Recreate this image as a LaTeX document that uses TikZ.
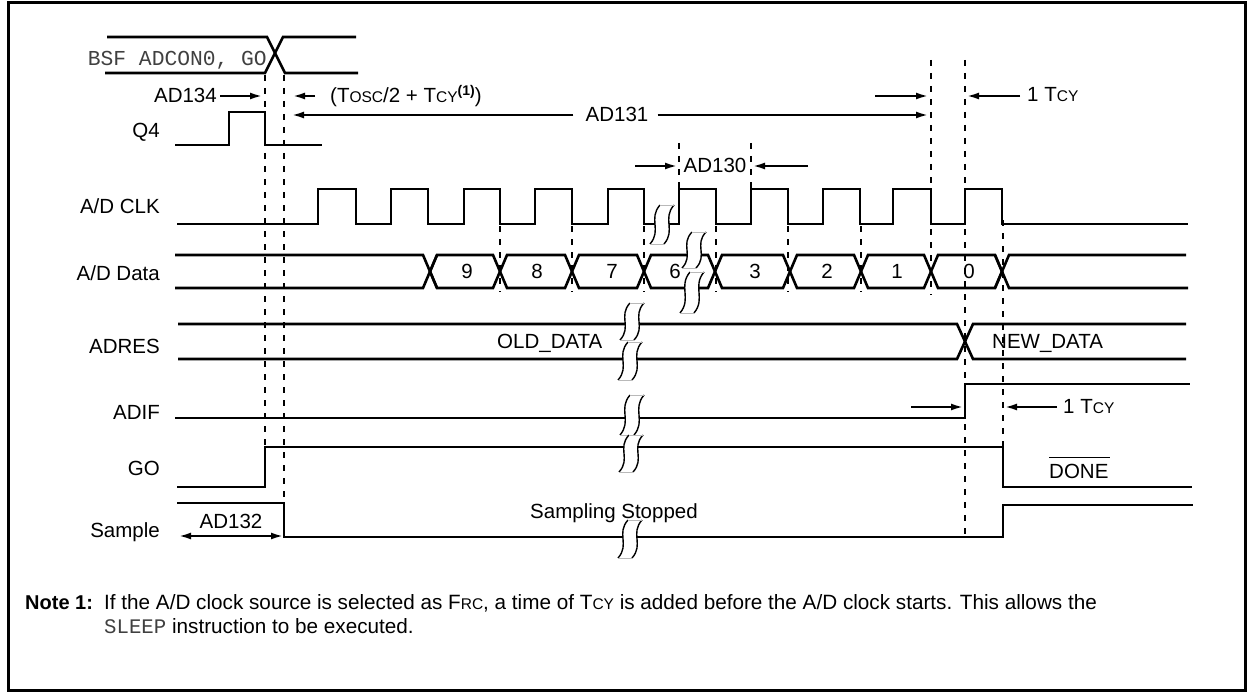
\documentclass[tikz,border=0pt]{standalone}
\usepackage{fontspec}
\setmainfont{Liberation Sans}
\newfontfamily\monofont{Liberation Mono}
\usetikzlibrary{arrows.meta}
\newcommand{\smc}[1]{{\fontsize{15.5}{16}\selectfont #1}}
\newcommand{\brkmark}[3]{%
  \fill[white] (#1+10,#2) .. controls (#1-2,{#2+0.35*(#3-#2)}) and (#1+12,{#2+0.65*(#3-#2)}) .. (#1,#3)
     -- (#1+14,#3) .. controls (#1+26,{#2+0.65*(#3-#2)}) and (#1+12,{#2+0.35*(#3-#2)}) .. (#1+24,#2) -- cycle;
  \draw[line width=1.4pt] (#1+10,#2) .. controls (#1-2,{#2+0.35*(#3-#2)}) and (#1+12,{#2+0.65*(#3-#2)}) .. (#1,#3);
  \draw[line width=1.4pt] (#1+24,#2) .. controls (#1+12,{#2+0.35*(#3-#2)}) and (#1+26,{#2+0.65*(#3-#2)}) .. (#1+14,#3);
  \draw[gray!55,line width=0.9pt] (#1+10,#2) -- (#1+24,#2) (#1,#3) -- (#1+14,#3);
}
\begin{document}
\begin{tikzpicture}[x=1pt,y=-1pt,
  sig/.style={line width=2.6pt},
  vdash/.style={line width=2pt,dash pattern=on 6pt off 7pt},
  lbl/.style={font=\fontsize{20.5}{24}\selectfont,inner sep=0pt},
  mono/.style={font=\monofont\fontsize{21.3}{24}\selectfont,text=black!75,inner sep=0pt},
  dim/.style={line width=2pt,-{Latex[length=12pt,width=7pt]}},
  ddim/.style={line width=2pt,{Latex[length=12pt,width=7pt]}-{Latex[length=12pt,width=7pt]}}]
\useasboundingbox (0,0) rectangle (1253,698);
\draw[line width=3pt] (8,3) rectangle (1245,690);

% signal names
\node[lbl,anchor=base east] (nq4) at (160,138) {Q4};
\node[lbl,anchor=base east] (nclk) at (160,213) {A/D CLK};
\node[lbl,anchor=base east] (ndata) at (160,280) {A/D Data};
\node[lbl,anchor=base east] (nadres) at (160,353) {ADRES};
\node[lbl,anchor=base east] (nadif) at (160,419) {ADIF};
\node[lbl,anchor=base east] (ngo) at (160,475) {GO};
\node[lbl,anchor=base east] (nsample) at (160,537) {Sample};

% dashed markers
\draw[vdash] (265,75) -- (265,447);
\draw[vdash] (284,75) -- (284,503);
\draw[vdash] (931,60) -- (931,295);
\draw[vdash] (965,60) -- (965,537);
\draw[vdash] (1003,220) -- (1003,447);
\draw[vdash] (679,143) -- (679,189);
\draw[vdash] (751,143) -- (751,189);
\foreach \c in {500,572,644,716,788,861} \draw[vdash] (\c,226) -- (\c,292);

% BSF ADCON0, GO
\draw[sig] (107,37) -- (267,37) -- (285,73) -- (358,73);
\draw[sig] (105,73) -- (265,73) -- (283,37) -- (356,37);
\node[mono,anchor=base east] (bsf) at (267,66) {BSF ADCON0, GO};

% Q4
\draw[sig] (175,145) -- (229,145) -- (229,112) -- (265,112) -- (265,145) -- (322,145);

% A/D CLK
\draw[sig] (177,224) foreach \r/\f in {318/356,391/428,464/500,535/572,608/644,679/716,751/788,823/860,893/931,965/1002}
  { -- (\r,224) -- (\r,189) -- (\f,189) -- (\f,224) } -- (1188,224);

% A/D Data
\draw[sig] (175,255) -- (423,255) -- (437,288);
\draw[sig] (175,288) -- (423,288) -- (437,255);
\foreach \a/\b in {430/500,500/572,572/644,644/715,715/790,790/861,861/931,931/1002}
  \draw[sig] (\a,271.5) -- (\a+7,255) -- (\b-7,255) -- (\b,271.5) -- (\b-7,288) -- (\a+7,288) -- cycle;
\draw[sig] (995,255) -- (1009,288) -- (1188,288);
\draw[sig] (995,288) -- (1009,255) -- (1186,255);
\foreach \x/\v in {467/9,537/8,612/7,675/6,755/3,827/2,897/1,969/0}
  \node[lbl,anchor=base] (d\v) at (\x,278) {\v};

% ADRES
\draw[sig] (178,324) -- (957,324) -- (973,359) -- (1186,359);
\draw[sig] (178,359) -- (957,359) -- (973,324) -- (1186,324);
\node[lbl,anchor=base west] (old) at (497,348) {OLD\_DATA};
\node[lbl,anchor=base west] (new) at (992,348) {NEW\_DATA};

% ADIF
\draw[sig] (175,418) -- (965,418) -- (965,384) -- (1190,384);

% GO
\draw[sig] (177,487) -- (265,487) -- (265,447) -- (1003,447) -- (1003,487) -- (1192,487);
\node[lbl,anchor=base west] (done) at (1049,478) {DONE};
\draw[line width=1.6pt] (done.north west) ++(0,-6) -- ++(61,0);

% Sample
\draw[sig] (177,503) -- (284,503) -- (284,537) -- (1003,537) -- (1003,505) -- (1193,505);
\node[lbl,anchor=base] (stop) at (614,518) {Sampling Stopped};

% break marks
\brkmark{650}{205}{244}
\brkmark{682}{232}{268}
\brkmark{680}{272}{313}
\brkmark{620}{303}{340}
\brkmark{618}{342}{380}
\brkmark{620}{395}{435}
\brkmark{619}{435}{472}
\brkmark{618}{520}{558}

% timing annotations
\node[lbl,anchor=base east] (ad134) at (217,103) {AD134};
\coordinate (a134s) at (220,96); \coordinate (a134e) at (262,96);
\draw[dim] (a134s) -- (a134e);
\coordinate (tos) at (315,96); \coordinate (toe) at (293,96);
\draw[dim] (tos) -- (toe);
\node[lbl,anchor=base west] (tosc) at (330,103) {(T\smc{OSC}/2 + T\smc{CY}\raisebox{7pt}{\fontsize{14}{14}\selectfont\bfseries(1)})};

\node[lbl,anchor=base] (ad131) at (617,122) {AD131};
\coordinate (a131l) at (292,115); \coordinate (a131r) at (928,115);
\draw[dim] (ad131.west |- a131l) ++(-12,0) -- (a131l);
\draw[dim] (ad131.east |- a131r) ++(9,0) -- (a131r);

\coordinate (t1s) at (875,96); \coordinate (t1e) at (928,96);
\draw[dim] (t1s) -- (t1e);
\coordinate (t2s) at (1020,96); \coordinate (t2e) at (967,96);
\draw[dim] (t2s) -- (t2e);
\node[lbl,anchor=base west] (tcy1) at (1027,102) {1 T\smc{CY}};

\node[lbl,anchor=base] (ad130) at (715,172) {AD130};
\coordinate (a130a) at (635,166); \coordinate (a130b) at (677,166);
\coordinate (a130c) at (808,166); \coordinate (a130d) at (753,166);
\draw[dim] (a130a) -- (a130b);
\draw[dim] (a130c) -- (a130d);

\coordinate (f1s) at (911,407); \coordinate (f1e) at (963,407);
\coordinate (f2s) at (1057,407); \coordinate (f2e) at (1005,407);
\draw[dim] (f1s) -- (f1e);
\draw[dim] (f2s) -- (f2e);
\node[lbl,anchor=base west] (tcy2) at (1063,413) {1 T\smc{CY}};

\node[lbl,anchor=base] (ad132) at (231,528) {AD132};
\coordinate (a132l) at (179,536); \coordinate (a132r) at (283,536);
\draw[ddim] (a132l) -- (a132r);

% note
\node[inner sep=0pt,anchor=base west,font=\bfseries\fontsize{20}{24}\selectfont] (note) at (25,609) {Note 1:};
\node[inner sep=0pt,anchor=base west,font=\fontsize{20.7}{24}\selectfont] (n1) at (104,609)
  {If the A/D clock source is selected as F\smc{RC}, a time of T\smc{CY} is added before the A/D clock starts. This allows the};
\node[inner sep=0pt,anchor=base west,font=\fontsize{20.7}{24}\selectfont] (n2) at (104,633)
  {{\monofont\color{black!75}SLEEP} instruction to be executed.};
\end{tikzpicture}
\end{document}
